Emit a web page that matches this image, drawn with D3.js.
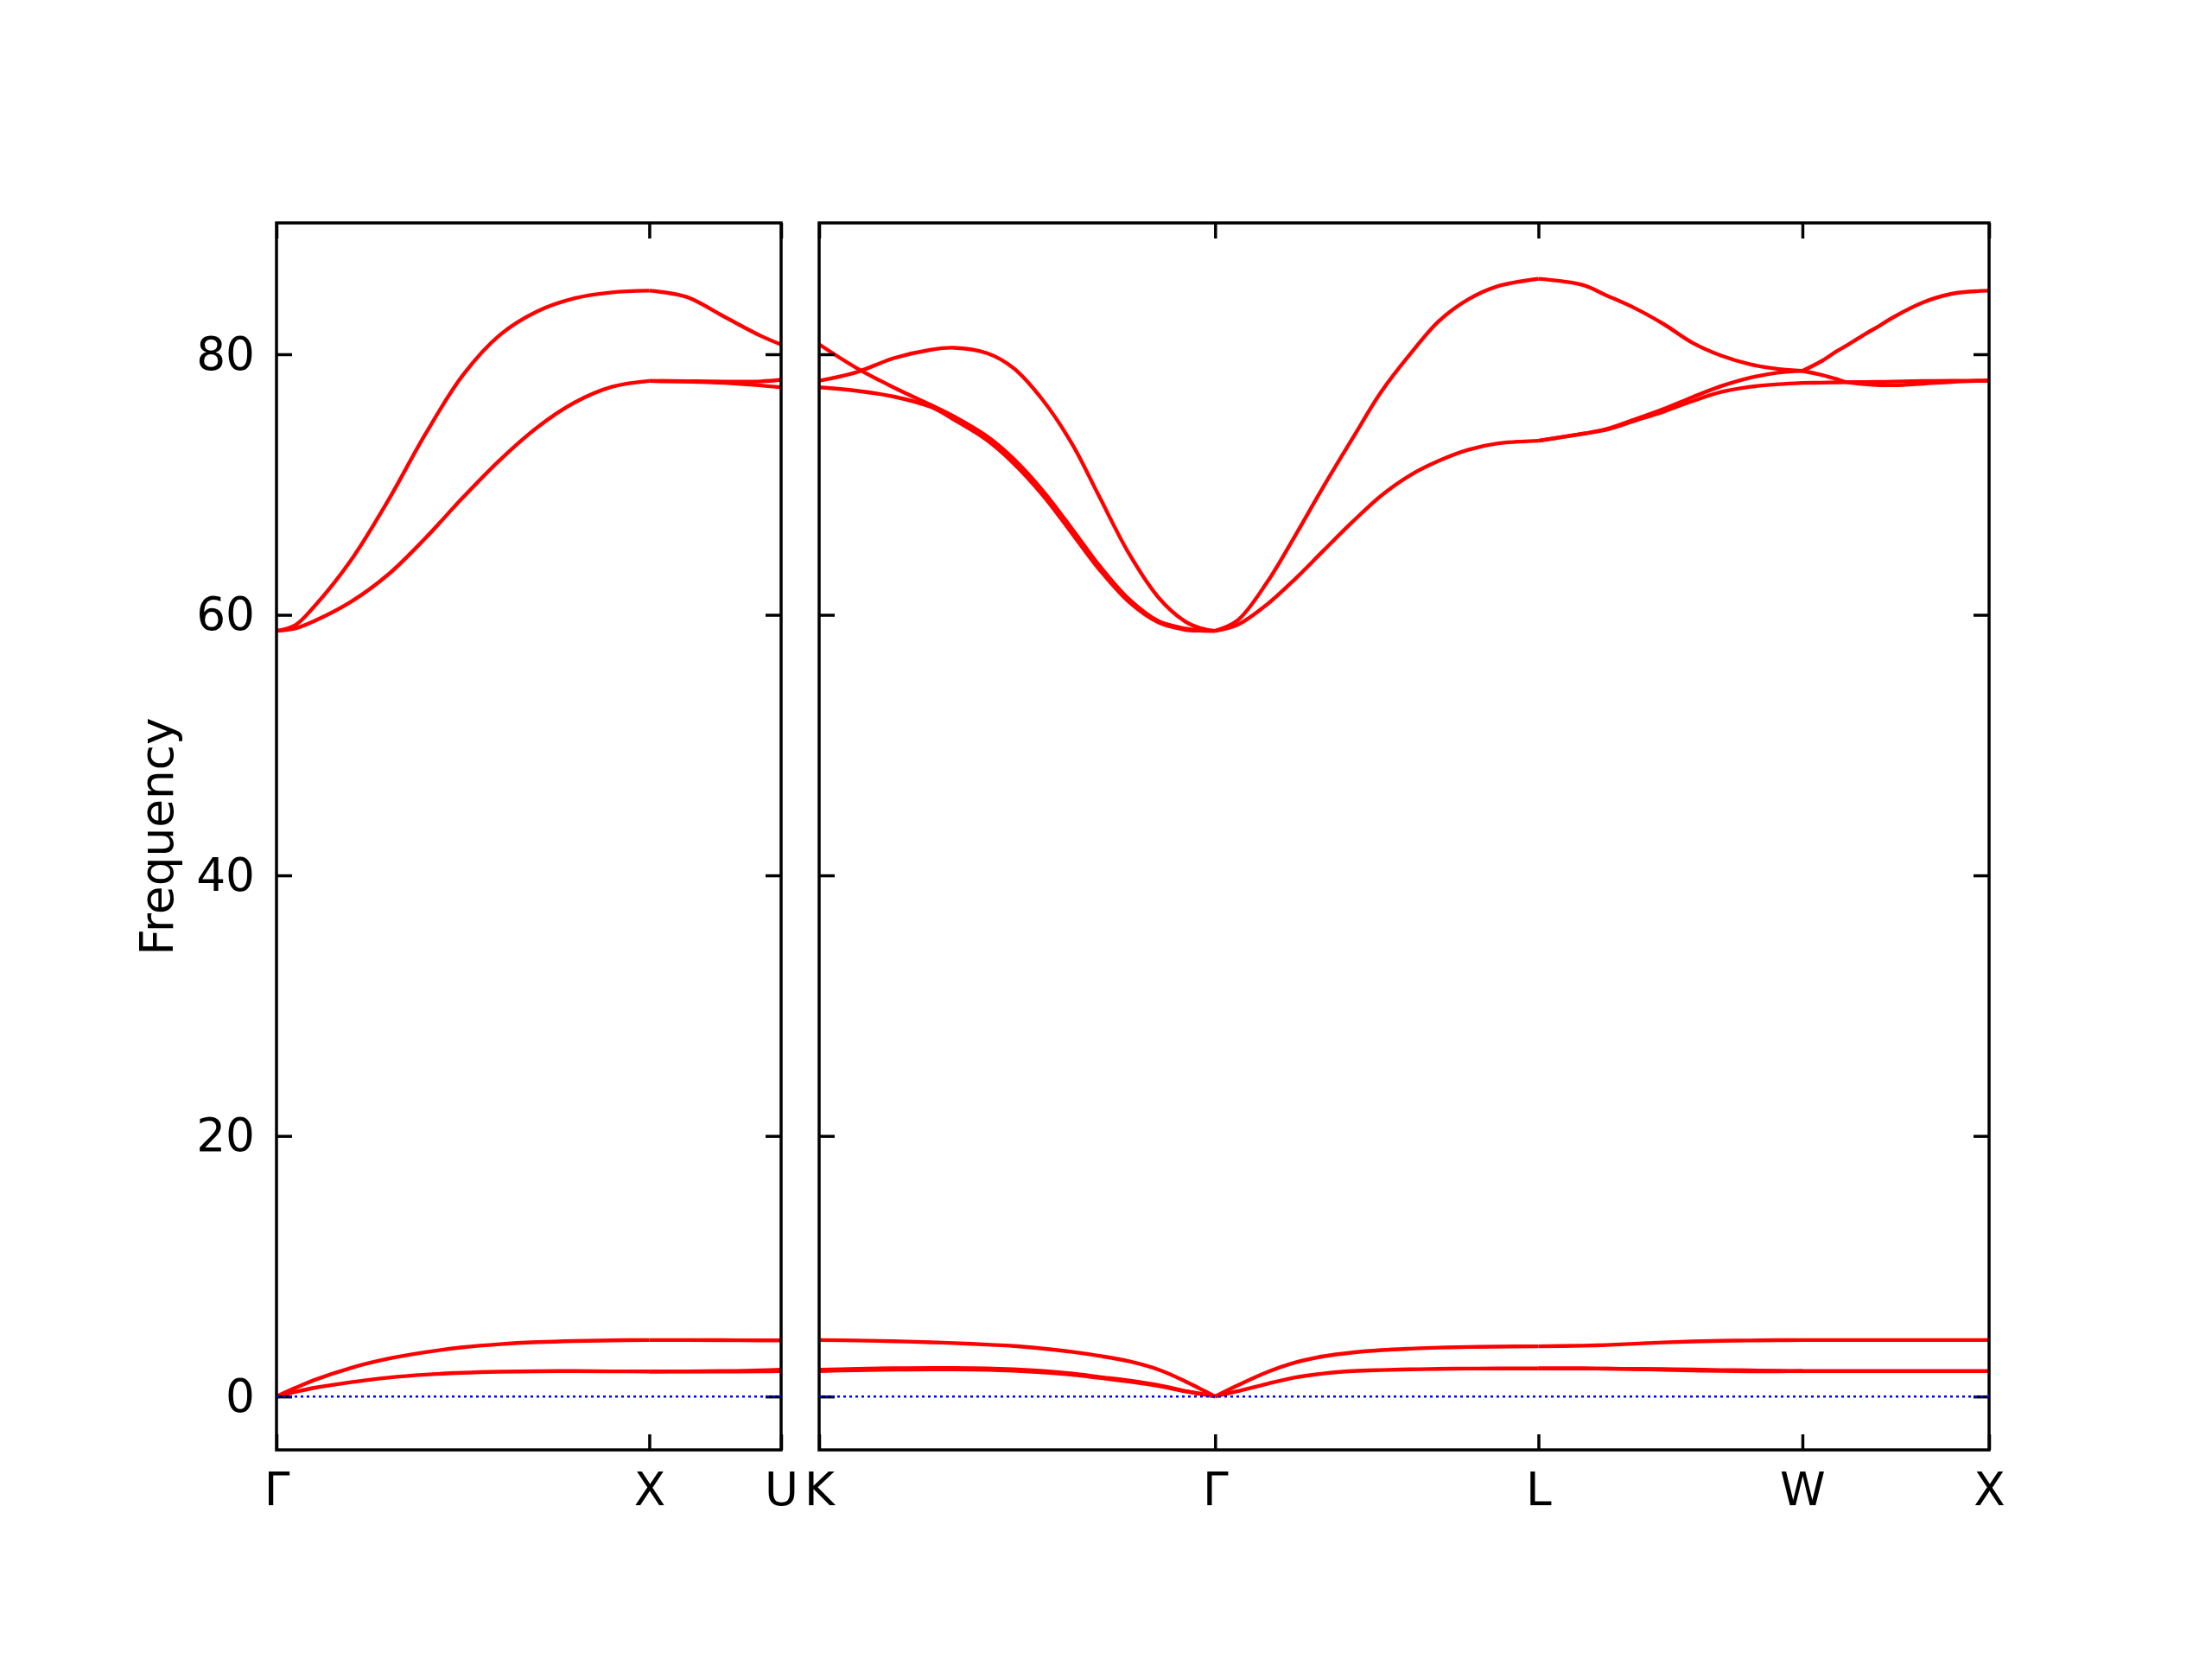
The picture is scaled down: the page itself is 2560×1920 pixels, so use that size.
<!DOCTYPE html>
<html>
<head>
<meta charset="utf-8">
<script src="https://cdn.jsdelivr.net/npm/d3@7"></script>
<style>
  html, body { margin: 0; padding: 0; background: #ffffff; }
  svg { display: block; }
  text { font-family: "DejaVu Sans", sans-serif; }
</style>
</head>
<body>
<svg id="chart" width="2560" height="1920"></svg>
<script>
// ---------------- DATA ----------------
// High-symmetry points (cumulative path distance, units of 2π/a)
const leftTickPos = [0, 1.0, 1.3536];
const leftTickLabels = ["Γ", "X", "U"];
const rightTickPos = [0, 1.0607, 1.9267, 2.6338, 3.1338];
const rightTickLabels = ["K", "Γ", "L", "W", "X"];
const yTicks = [0, 20, 40, 60, 80];
const yLabel = "Frequency";

// Γ–X (left panel)
const qGX  = [0, 0.05, 0.1, 0.2, 0.3, 0.4, 0.5, 0.6, 0.7, 0.8, 0.9, 1.0];
const gxLO = [58.77, 59.2, 60.6, 64.2, 68.8, 73.9, 78.4, 81.5, 83.3, 84.3, 84.75, 84.88];
const gxTO = [58.77, 58.95, 59.5, 61.0, 63.1, 65.9, 69.0, 71.9, 74.4, 76.3, 77.5, 77.95];
const gxLA = [0, 0.65, 1.25, 2.2, 2.9, 3.4, 3.78, 4.02, 4.17, 4.26, 4.31, 4.33];
const gxTA = [0, 0.35, 0.66, 1.1, 1.45, 1.68, 1.82, 1.9, 1.94, 1.95, 1.93, 1.92];

// X–U (left panel)
const qXU   = [1.0, 1.1, 1.2, 1.3, 1.3536];
const xuLO  = [84.88, 84.4, 82.9, 81.4, 80.75];
const xuTOa = [77.95, 77.93, 77.9, 77.92, 78.04];
const xuTOb = [77.95, 77.9, 77.8, 77.6, 77.46];
const xuLA  = [4.33, 4.33, 4.32, 4.31, 4.31];
const xuTAa = [1.92, 1.93, 1.95, 2.0, 2.05];
const xuTAb = [1.92, 1.92, 1.92, 1.93, 1.95];

// K–Γ (right panel)
const qKG   = [0, 0.1, 0.2, 0.3, 0.36, 0.45, 0.52, 0.6, 0.68, 0.75, 0.83, 0.91, 0.98, 1.02, 1.0607];
const kgA   = [80.76, 78.95, 77.45, 76.1, 75.25, 73.7, 72.0, 69.5, 66.5, 63.8, 61.2, 59.5, 58.95, 58.8, 58.77];
const kgB   = [77.97, 78.62, 79.7, 80.35, 80.5, 80.08, 78.95, 76.45, 73.0, 69.1, 64.7, 61.3, 59.5, 58.98, 58.77];
const kgC   = [77.46, 77.2, 76.75, 75.95, 75.0, 73.4, 71.65, 69.15, 66.15, 63.5, 60.99, 59.4, 58.86, 58.78, 58.77];
const kgLA  = [4.33, 4.3, 4.24, 4.16, 4.1, 3.98, 3.88, 3.68, 3.42, 3.12, 2.7, 2.05, 1.18, 0.6, 0];
const kgTAa = [2.05, 2.12, 2.17, 2.18, 2.18, 2.15, 2.08, 1.95, 1.75, 1.5, 1.22, 0.86, 0.42, 0.22, 0];
const kgTAb = [1.95, 2.02, 2.06, 2.08, 2.08, 2.05, 1.98, 1.85, 1.66, 1.43, 1.15, 0.8, 0.4, 0.21, 0];

// Γ–L (right panel)
const qGL  = [1.0607, 1.12, 1.2, 1.275, 1.35, 1.43, 1.506, 1.583, 1.66, 1.738, 1.815, 1.9267];
const glLO = [58.77, 59.55, 62.5, 66.07, 69.8, 73.6, 77.13, 80.0, 82.54, 84.2, 85.2, 85.79];
const glTO = [58.77, 59.22, 60.8, 62.75, 64.9, 67.17, 69.16, 70.71, 71.82, 72.66, 73.14, 73.36];
const glLA = [0, 0.84, 1.87, 2.61, 3.08, 3.38, 3.56, 3.67, 3.75, 3.8, 3.83, 3.85];
const glTA = [0, 0.4, 0.97, 1.46, 1.76, 1.95, 2.03, 2.08, 2.12, 2.14, 2.15, 2.15];

// L–W (right panel)
const qLW   = [1.9267, 2.046, 2.108, 2.185, 2.262, 2.339, 2.416, 2.494, 2.571, 2.6338];
const lwLO  = [85.79, 85.31, 84.53, 83.54, 82.32, 80.89, 79.9, 79.23, 78.86, 78.72];
const lwTOe = [73.36, 73.9, 74.25, 75.0, 75.8, 76.7, 77.55, 78.2, 78.6, 78.72];
const lwTOf = [73.36, 73.9, 74.2, 74.9, 75.6, 76.4, 77.1, 77.5, 77.7, 77.8];
const lwLA  = [3.85, 3.9, 3.95, 4.05, 4.15, 4.22, 4.27, 4.3, 4.32, 4.33];
const lwTAa = [2.15, 2.15, 2.14, 2.12, 2.1, 2.07, 2.03, 2.0, 1.97, 1.95];
const lwTAb = [2.15, 2.15, 2.13, 2.1, 2.05, 2.0, 1.96, 1.94, 1.94, 1.95];

// W–X (right panel)
const qWX    = [2.6338, 2.687, 2.725, 2.748, 2.802, 2.841, 2.879, 2.957, 3.034, 3.1338];
const wxTop  = [78.72, 79.5, 80.22, 80.6, 81.55, 82.2, 82.87, 83.98, 84.64, 84.88];
const wxMid  = [78.72, 78.4, 78.1, 77.89, 77.7, 77.63, 77.62, 77.74, 77.88, 77.98];
const wxFlat = [77.8, 77.82, 77.84, 77.85, 77.87, 77.88, 77.9, 77.94, 77.96, 77.98];
const wxLA   = [4.33, 4.33, 4.33, 4.33, 4.33, 4.33, 4.33, 4.33, 4.33, 4.33];
const wxTA   = [1.95, 1.95, 1.95, 1.95, 1.95, 1.95, 1.95, 1.95, 1.95, 1.95];

// ---------------- LAYOUT ----------------
const svg = d3.select("#chart");
const yTopPx = 258, yBottomPx = 1678;
const panels = [
  { name: "left",  x0: 320, x1: 904,  domain: [leftTickPos[0], leftTickPos[leftTickPos.length - 1]], ticks: leftTickPos, labels: leftTickLabels, yLabels: true },
  { name: "right", x0: 948, x1: 2302, domain: [rightTickPos[0], rightTickPos[rightTickPos.length - 1]], ticks: rightTickPos, labels: rightTickLabels, yLabels: false }
];
const y = d3.scaleLinear().domain([-4.1, 90.08]).range([yBottomPx, yTopPx]);
panels.forEach(p => { p.x = d3.scaleLinear().domain(p.domain).range([p.x0, p.x1]); });

const segments = [
  { panel: 0, q: qGX, bands: [gxLO, gxTO, gxLA, gxTA] },
  { panel: 0, q: qXU, bands: [xuLO, xuTOa, xuTOb, xuLA, xuTAa, xuTAb] },
  { panel: 1, q: qKG, bands: [kgA, kgB, kgC, kgLA, kgTAa, kgTAb] },
  { panel: 1, q: qGL, bands: [glLO, glTO, glLA, glTA] },
  { panel: 1, q: qLW, bands: [lwLO, lwTOe, lwTOf, lwLA, lwTAa, lwTAb] },
  { panel: 1, q: qWX, bands: [wxTop, wxMid, wxFlat, wxLA, wxTA] }
];

const FONT = 53.3;
const TICK = 18;
const LW = 3.5;

// ---------------- BANDS ----------------
segments.forEach(seg => {
  const p = panels[seg.panel];
  const line = d3.line()
    .x(d => p.x(d[0]))
    .y(d => y(d[1]))
    .curve(d3.curveCatmullRom.alpha(0.5));
  seg.bands.forEach(b => {
    const pts = seg.q.map((q, i) => [q, b[i]]);
    svg.append("path")
      .attr("d", line(pts))
      .attr("fill", "none")
      .attr("stroke", "#ff0000")
      .attr("stroke-width", 4.4)
      .attr("stroke-linejoin", "round");
  });
});

// ---------------- AXES ----------------
panels.forEach(p => {
  const h = yBottomPx - yTopPx;
  const aL = d3.axisLeft(y).tickValues(yTicks).tickSizeInner(-TICK).tickSizeOuter(0).tickPadding(25);
  if (!p.yLabels) aL.tickFormat("");
  const gL = svg.append("g").attr("transform", `translate(${p.x0},0)`).call(aL);
  const aR = d3.axisRight(y).tickValues(yTicks).tickSizeInner(-TICK).tickSizeOuter(0).tickFormat("");
  const gR = svg.append("g").attr("transform", `translate(${p.x1},0)`).call(aR);
  const aB = d3.axisBottom(p.x).tickValues(p.ticks).tickSizeInner(-TICK).tickSizeOuter(0).tickPadding(26)
    .tickFormat((d, i) => p.labels[i]);
  const gB = svg.append("g").attr("transform", `translate(0,${yBottomPx})`).call(aB);
  const aT = d3.axisTop(p.x).tickValues(p.ticks).tickSizeInner(-TICK).tickSizeOuter(0).tickFormat("");
  const gT = svg.append("g").attr("transform", `translate(0,${yTopPx})`).call(aT);

  [gL, gR, gB, gT].forEach(g => {
    g.select(".domain").remove();
    g.selectAll(".tick line").attr("stroke", "#000").attr("stroke-width", LW);
    g.selectAll("text").attr("font-size", FONT).attr("fill", "#000")
      .attr("font-family", "'DejaVu Sans', sans-serif");
  });

  svg.append("rect")
    .attr("x", p.x0).attr("y", yTopPx)
    .attr("width", p.x1 - p.x0).attr("height", h)
    .attr("fill", "none").attr("stroke", "#000").attr("stroke-width", LW);

  svg.append("line")
    .attr("x1", p.x0).attr("x2", p.x1)
    .attr("y1", y(0)).attr("y2", y(0))
    .attr("stroke", "#0000ff").attr("stroke-width", 2.6)
    .attr("stroke-dasharray", "3,4");
});

svg.append("text")
  .attr("transform", `translate(200,${(yTopPx + yBottomPx) / 2}) rotate(-90)`)
  .attr("text-anchor", "middle")
  .attr("font-size", FONT)
  .attr("fill", "#000")
  .text(yLabel);
</script>
</body>
</html>
